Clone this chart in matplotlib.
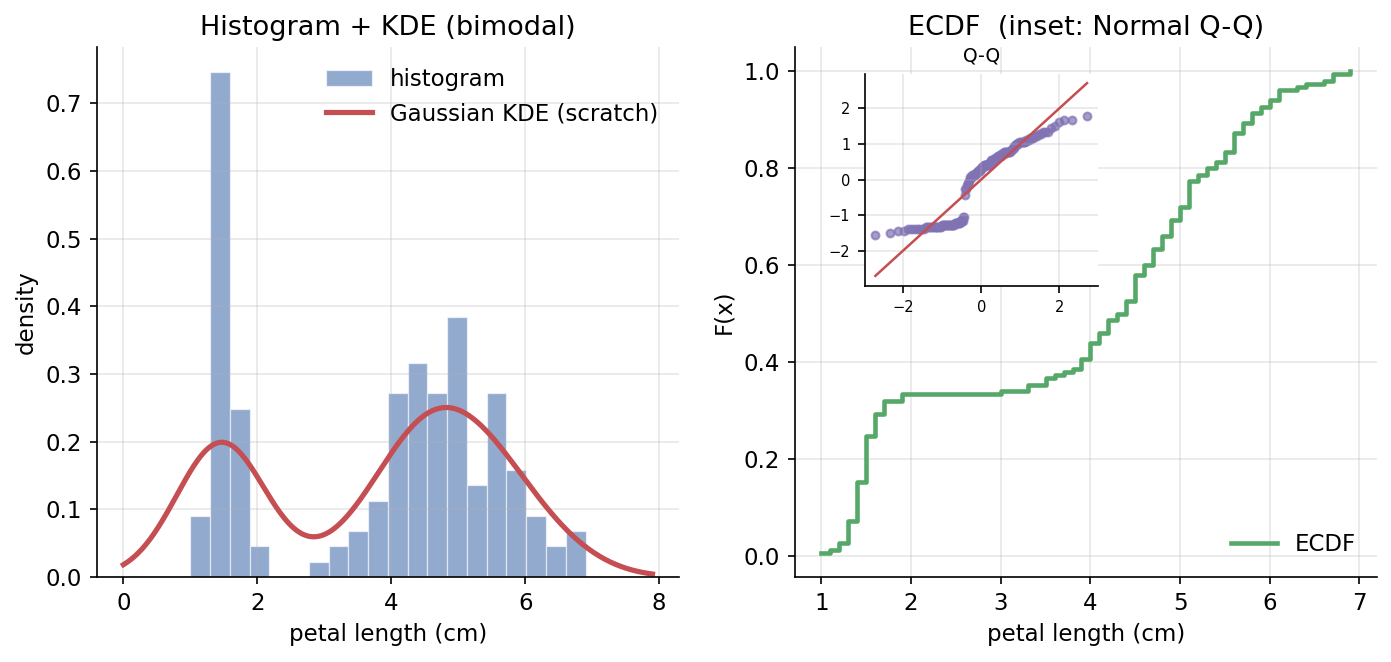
import numpy as np
import matplotlib.pyplot as plt
from statistics import NormalDist

# iris petal length (cm)
setosa = [1.4, 1.4, 1.3, 1.5, 1.4, 1.7, 1.4, 1.5, 1.4, 1.5, 1.5, 1.6, 1.4, 1.1, 1.2, 1.5, 1.3, 1.4, 1.7, 1.5,
          1.7, 1.5, 1.0, 1.7, 1.9, 1.6, 1.6, 1.5, 1.4, 1.6, 1.6, 1.5, 1.5, 1.4, 1.5, 1.2, 1.3, 1.5, 1.3, 1.5,
          1.3, 1.3, 1.3, 1.6, 1.9, 1.4, 1.6, 1.4, 1.5, 1.4]
versicolor = [4.7, 4.5, 4.9, 4.0, 4.6, 4.5, 4.7, 3.3, 4.6, 3.9, 3.5, 4.2, 4.0, 4.7, 3.6, 4.4, 4.5, 4.1, 4.5, 3.9,
              4.8, 4.0, 4.9, 4.7, 4.3, 4.4, 4.8, 5.0, 4.5, 3.5, 3.8, 3.7, 3.9, 5.1, 4.5, 4.5, 4.7, 4.4, 4.1, 4.0,
              4.4, 4.6, 4.0, 3.3, 4.2, 4.2, 4.2, 4.3, 3.0, 4.1]
virginica = [6.0, 5.1, 5.9, 5.6, 5.8, 6.6, 4.5, 6.3, 5.8, 6.1, 5.1, 5.3, 5.5, 5.0, 5.1, 5.3, 5.5, 6.7, 6.9, 5.0,
             5.7, 4.9, 6.7, 4.9, 5.7, 6.0, 4.8, 4.9, 5.6, 5.8, 6.1, 6.4, 5.6, 5.1, 5.6, 6.1, 5.6, 5.5, 4.8, 5.4,
             5.6, 5.1, 5.1, 5.9, 5.7, 5.2, 5.0, 5.2, 5.4, 5.1]

x = np.array(setosa + versicolor + virginica)
n = len(x)

# gaussian KDE by hand, scott bandwidth
h = x.std(ddof=1) * n ** (-1 / 5)
grid = np.linspace(x.min() - 1, x.max() + 1, 400)
kde = np.exp(-0.5 * ((grid[:, None] - x[None, :]) / h) ** 2).sum(axis=1) / (n * h * np.sqrt(2 * np.pi))

xs = np.sort(x)
ecdf = np.arange(1, n + 1) / n

z = (xs - x.mean()) / x.std()
nd = NormalDist()
theo = np.array([nd.inv_cdf((i - 0.5) / n) for i in range(1, n + 1)])

plt.rcParams['font.size'] = 11
fig = plt.figure(figsize=(1391 / 150, 662 / 150), dpi=150)
ax1 = fig.add_axes([0.0697, 0.1284, 0.4184, 0.8006])
ax2 = fig.add_axes([0.5715, 0.1284, 0.4184, 0.8006])

ax1.hist(x, bins=20, density=True, color='#4C72B0', alpha=0.6, edgecolor='white', linewidth=0.6, label='histogram')
ax1.plot(grid, kde, color='#C44E52', lw=2.5, label='Gaussian KDE (scratch)')
ax1.set_title('Histogram + KDE (bimodal)', fontsize=13)
ax1.set_xlabel('petal length (cm)')
ax1.set_ylabel('density')
ax1.legend(frameon=False, loc='upper right')
ax1.grid(alpha=0.3)

ax2.step(xs, ecdf, where='post', color='#55A868', lw=2.2, label='ECDF')
ax2.set_title('ECDF  (inset: Normal Q-Q)', fontsize=13)
ax2.set_xlabel('petal length (cm)')
ax2.set_ylabel('F(x)')
ax2.legend(frameon=False, loc='lower right')
ax2.grid(alpha=0.3)

for ax in (ax1, ax2):
    ax.spines['top'].set_visible(False)
    ax.spines['right'].set_visible(False)

ins = ax2.inset_axes([0.12, 0.55, 0.4, 0.4])
ins.scatter(theo, z, s=14, color='#8172B3', alpha=0.7)
ins.plot([theo.min(), theo.max()], [theo.min(), theo.max()], color='#C44E52', lw=1.2)
ins.set_title('Q-Q', fontsize=9)
ins.tick_params(labelsize=7)
ins.grid(alpha=0.3)
ins.spines['top'].set_visible(False)
ins.spines['right'].set_visible(False)

fig.savefig('out.png', dpi=150)
